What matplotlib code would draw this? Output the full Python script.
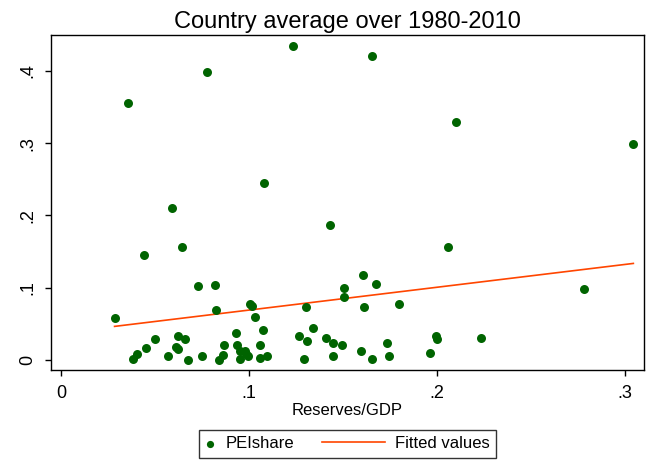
import matplotlib
import matplotlib.pyplot as plt
from matplotlib.legend_handler import HandlerLine2D

matplotlib.use("Agg")

plt.rcParams["font.family"] = ["Liberation Sans", "DejaVu Sans"]

# PEIshare vs Reserves/GDP
reserves_gdp = [
    0.0775, 0.0356, 0.0590, 0.1234, 0.1655, 0.2100, 0.1078, 0.3045,
    0.0643, 0.0443, 0.0731, 0.0820, 0.0285, 0.0825, 0.1006, 0.1014,
    0.1034, 0.0499, 0.0451, 0.0404, 0.0381, 0.0623, 0.0662, 0.0611,
    0.0620, 0.0570, 0.0674, 0.0749, 0.0839, 0.0864, 0.0866, 0.0933,
    0.0935, 0.0951, 0.0977, 0.0985, 0.0997, 0.0951, 0.1059, 0.1059,
    0.1075, 0.1096, 0.1432, 0.2059, 0.1607, 0.1678, 0.1508, 0.1505,
    0.1611, 0.1800, 0.1301, 0.1264, 0.1308, 0.1340, 0.1294, 0.1409,
    0.1448, 0.1494, 0.1448, 0.1597, 0.1652, 0.1737, 0.1747, 0.1965,
    0.1995, 0.2003, 0.2232, 0.2784,
]
pei_share = [
    0.398, 0.356, 0.210, 0.435, 0.420, 0.329, 0.245, 0.299,
    0.156, 0.145, 0.103, 0.104, 0.058, 0.069, 0.077, 0.075,
    0.060, 0.029, 0.017, 0.008, 0.002, 0.033, 0.029, 0.018,
    0.016, 0.005, 0.000, 0.005, 0.000, 0.007, 0.021, 0.038,
    0.021, 0.012, 0.012, 0.008, 0.006, 0.001, 0.021, 0.003,
    0.041, 0.005, 0.187, 0.156, 0.117, 0.105, 0.100, 0.087,
    0.074, 0.078, 0.073, 0.033, 0.027, 0.044, 0.001, 0.030,
    0.024, 0.021, 0.006, 0.012, 0.002, 0.023, 0.005, 0.010,
    0.033, 0.029, 0.030, 0.098,
]

# linear fit endpoints as drawn
fit_x = [0.0285, 0.3045]
fit_y = [0.0466, 0.1337]


class LongLineHandler(HandlerLine2D):
    """Stata-style legend key: line reaches back past the (short) handle box."""

    def get_xdata(self, legend, xdescent, ydescent, width, height, fontsize):
        x = [-xdescent + width - 3.8 * fontsize, -xdescent + width]
        return x, x


fig = plt.figure(figsize=(6.46, 4.62), dpi=100)
ax = fig.add_axes([0.079, 0.199, 0.918, 0.725])

ax.scatter(reserves_gdp, pei_share, s=42, color="#006400", linewidths=0,
           zorder=3, label="PEIshare")
(fit_line,) = ax.plot(fit_x, fit_y, color="#FF4500", lw=1.2, zorder=2,
                      label="Fitted values")

ax.set_xlim(-0.0053, 0.3102)
ax.set_ylim(-0.0138, 0.4495)
ax.set_xticks([0, 0.1, 0.2, 0.3])
ax.set_xticklabels(["0", ".1", ".2", ".3"])
ax.set_yticks([0, 0.1, 0.2, 0.3, 0.4])
ax.set_yticklabels(["0", ".1", ".2", ".3", ".4"], rotation=90, va="center")
ax.tick_params(labelsize=13, length=4.5, width=1, pad=6)

for sp in ax.spines.values():
    sp.set_linewidth(1)

ax.set_xlabel("Reserves/GDP", fontsize=12, labelpad=1)
ax.set_title("Country average over 1980-2010", fontsize=17, pad=5)

leg = fig.legend(loc="lower center", bbox_to_anchor=(0.538, 0.009), ncol=2,
                 fontsize=12, frameon=True, fancybox=False, edgecolor="black",
                 handlelength=0.6, handletextpad=0.6, columnspacing=4.85,
                 markerscale=0.8, borderpad=0.4, borderaxespad=0,
                 handler_map={fit_line: LongLineHandler()})
leg.get_frame().set_linewidth(1)

fig.savefig("out.png", dpi=100)
